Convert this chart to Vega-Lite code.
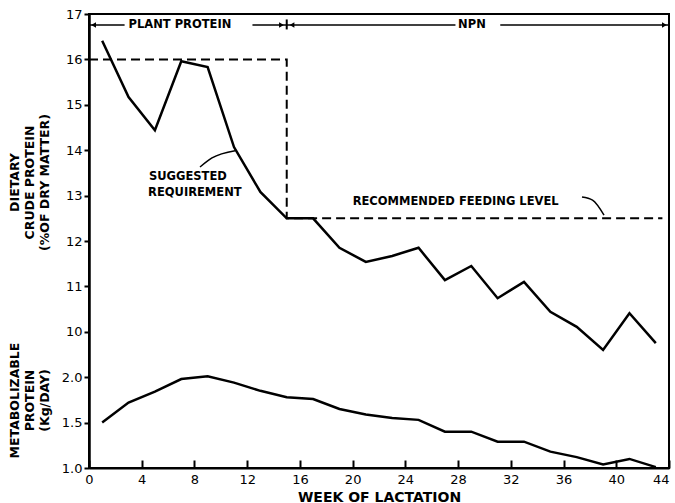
{
  "$schema": "https://vega.github.io/schema/vega-lite/v6.json",
  "width": 580,
  "height": 454,
  "autosize": {"type": "none"},
  "padding": {"left": 89, "top": 14, "right": 6, "bottom": 35},
  "background": "white",
  "config": {
    "view": {"stroke": "black", "strokeWidth": 2},
    "axis": {"domainColor": "black", "domainWidth": 2, "tickColor": "black", "tickWidth": 2, "labelColor": "black", "titleColor": "black", "labelFont": "DejaVu Sans", "titleFont": "DejaVu Sans", "grid": false},
    "text": {"font": "DejaVu Sans", "fontWeight": "bold", "fontSize": 11.5, "color": "black", "baseline": "middle", "align": "left"}
  },
  "datasets": {
    "cp": [
      {"week": 1, "v": 16.41}, {"week": 3, "v": 15.17}, {"week": 5, "v": 14.44}, {"week": 7, "v": 15.96},
      {"week": 9, "v": 15.83}, {"week": 11, "v": 14.07}, {"week": 13, "v": 13.08}, {"week": 15, "v": 12.5},
      {"week": 17, "v": 12.5}, {"week": 19, "v": 11.85}, {"week": 21, "v": 11.54}, {"week": 23, "v": 11.67},
      {"week": 25, "v": 11.85}, {"week": 27, "v": 11.14}, {"week": 29, "v": 11.45}, {"week": 31, "v": 10.74},
      {"week": 33, "v": 11.1}, {"week": 35, "v": 10.44}, {"week": 37, "v": 10.11}, {"week": 39, "v": 9.6},
      {"week": 41, "v": 10.41}, {"week": 43, "v": 9.75}
    ],
    "mp": [
      {"week": 1, "mp": 1.5}, {"week": 3, "mp": 1.72}, {"week": 5, "mp": 1.84}, {"week": 7, "mp": 1.98},
      {"week": 9, "mp": 2.01}, {"week": 11, "mp": 1.94}, {"week": 13, "mp": 1.85}, {"week": 15, "mp": 1.78},
      {"week": 17, "mp": 1.76}, {"week": 19, "mp": 1.65}, {"week": 21, "mp": 1.59}, {"week": 23, "mp": 1.55},
      {"week": 25, "mp": 1.53}, {"week": 27, "mp": 1.4}, {"week": 29, "mp": 1.4}, {"week": 31, "mp": 1.29},
      {"week": 33, "mp": 1.29}, {"week": 35, "mp": 1.18}, {"week": 37, "mp": 1.12}, {"week": 39, "mp": 1.04},
      {"week": 41, "mp": 1.1}, {"week": 43, "mp": 1.01}
    ],
    "req": [
      {"i": 1, "week": 0, "v": 16}, {"i": 2, "week": 15, "v": 16}, {"i": 3, "week": 15, "v": 12.5}, {"i": 4, "week": 43.5, "v": 12.5}
    ],
    "bracket": [
      {"seg": "a", "i": 1, "week": 0, "v": 16.76}, {"seg": "a", "i": 2, "week": 2.7, "v": 16.76},
      {"seg": "b", "i": 1, "week": 12.4, "v": 16.76}, {"seg": "b", "i": 2, "week": 15, "v": 16.76},
      {"seg": "c", "i": 1, "week": 15, "v": 16.76}, {"seg": "c", "i": 2, "week": 27.8, "v": 16.76},
      {"seg": "d", "i": 1, "week": 31.2, "v": 16.76}, {"seg": "d", "i": 2, "week": 44, "v": 16.76}
    ],
    "arrows": [
      {"week": 0.35, "v": 16.76, "shape": "triangle-left"},
      {"week": 14.6, "v": 16.76, "shape": "triangle-right"},
      {"week": 15.4, "v": 16.76, "shape": "triangle-left"},
      {"week": 43.65, "v": 16.76, "shape": "triangle-right"}
    ],
    "sep": [{"week": 15, "v": 16.66, "v2": 16.88}],
    "leaders": [
      {"seg": "s", "i": 1, "week": 8.42, "v": 13.63}, {"seg": "s", "i": 2, "week": 9.33, "v": 13.83}, {"seg": "s", "i": 3, "week": 11.08, "v": 13.99},
      {"seg": "r", "i": 1, "week": 37.4, "v": 12.97}, {"seg": "r", "i": 2, "week": 38.2, "v": 12.9}, {"seg": "r", "i": 3, "week": 39.07, "v": 12.57}
    ],
    "labels": [
      {"week": 3.0, "v": 16.76, "text": "PLANT PROTEIN"},
      {"week": 28.0, "v": 16.76, "text": "NPN"},
      {"week": 4.55, "v": 13.41, "text": "SUGGESTED"},
      {"week": 4.48, "v": 13.06, "text": "REQUIREMENT"},
      {"week": 20.0, "v": 12.86, "text": "RECOMMENDED FEEDING LEVEL"}
    ]
  },
  "layer": [
    {
      "layer": [
        {
          "data": {"name": "cp"},
          "mark": {"type": "line", "color": "black", "strokeWidth": 2.5},
          "encoding": {
            "x": {"field": "week", "type": "quantitative", "scale": {"domain": [0, 44], "nice": false},
              "axis": {"values": [0,2,4,6,8,10,12,14,16,18,20,22,24,26,28,30,32,34,36,38,40,42,44],
                "labelExpr": "datum.value % 4 === 0 ? datum.label : ''", "tickSize": -8, "labelPadding": 13,
                "labelFontSize": 13, "labelFlush": false,
                "labelAlign": {"expr": "datum.value === 44 ? 'right' : 'center'"},
                "title": "WEEK OF LACTATION", "titleFontSize": 14,
                "titleFontWeight": "bold", "titleBaseline": "alphabetic", "titleY": 33}},
            "y": {"field": "v", "type": "quantitative", "scale": {"domain": [7, 17], "nice": false, "zero": false},
              "axis": {"orient": "left", "values": [10,11,12,13,14,15,16,17], "tickSize": 5, "labelPadding": 2,
                "labelFontSize": 13, "title": ["DIETARY", "CRUDE PROTEIN", "(%OF DRY MATTER)"], "titleFontSize": 12.5,
                "titleFontWeight": "bold", "titleAngle": -90, "titleAlign": "center", "titleBaseline": "top",
                "titleX": -81, "titleY": 168, "titleLineHeight": 15}}
          }
        },
        {
          "data": {"name": "req"},
          "mark": {"type": "line", "color": "black", "strokeWidth": 2, "strokeDash": [9, 5]},
          "encoding": {
            "x": {"field": "week", "type": "quantitative", "scale": {"domain": [0, 44], "nice": false}},
            "y": {"field": "v", "type": "quantitative", "scale": {"domain": [7, 17], "nice": false, "zero": false}},
            "order": {"field": "i", "type": "quantitative"}
          }
        },
        {
          "data": {"name": "bracket"},
          "mark": {"type": "line", "color": "black", "strokeWidth": 1.5},
          "encoding": {
            "x": {"field": "week", "type": "quantitative", "scale": {"domain": [0, 44], "nice": false}},
            "y": {"field": "v", "type": "quantitative", "scale": {"domain": [7, 17], "nice": false, "zero": false}},
            "detail": {"field": "seg"},
            "order": {"field": "i", "type": "quantitative"}
          }
        },
        {
          "data": {"name": "arrows"},
          "mark": {"type": "point", "filled": true, "color": "black", "size": 30, "opacity": 1},
          "encoding": {
            "x": {"field": "week", "type": "quantitative", "scale": {"domain": [0, 44], "nice": false}},
            "y": {"field": "v", "type": "quantitative", "scale": {"domain": [7, 17], "nice": false, "zero": false}},
            "shape": {"field": "shape", "type": "nominal", "scale": null, "legend": null}
          }
        },
        {
          "data": {"name": "sep"},
          "mark": {"type": "rule", "color": "black", "strokeWidth": 2},
          "encoding": {
            "x": {"field": "week", "type": "quantitative", "scale": {"domain": [0, 44], "nice": false}},
            "y": {"field": "v", "type": "quantitative", "scale": {"domain": [7, 17], "nice": false, "zero": false}},
            "y2": {"field": "v2"}
          }
        },
        {
          "data": {"name": "leaders"},
          "mark": {"type": "line", "color": "black", "strokeWidth": 1.5, "interpolate": "monotone"},
          "encoding": {
            "x": {"field": "week", "type": "quantitative", "scale": {"domain": [0, 44], "nice": false}},
            "y": {"field": "v", "type": "quantitative", "scale": {"domain": [7, 17], "nice": false, "zero": false}},
            "detail": {"field": "seg"},
            "order": {"field": "i", "type": "quantitative"}
          }
        },
        {
          "data": {"name": "labels"},
          "mark": {"type": "text"},
          "encoding": {
            "x": {"field": "week", "type": "quantitative", "scale": {"domain": [0, 44], "nice": false}},
            "y": {"field": "v", "type": "quantitative", "scale": {"domain": [7, 17], "nice": false, "zero": false}},
            "text": {"field": "text"}
          }
        }
      ]
    },
    {
      "data": {"name": "mp"},
      "mark": {"type": "line", "color": "black", "strokeWidth": 2.5},
      "encoding": {
        "x": {"field": "week", "type": "quantitative", "scale": {"domain": [0, 44], "nice": false}},
        "y": {"field": "mp", "type": "quantitative", "scale": {"domain": [1, 6], "nice": false, "zero": false},
          "axis": {"orient": "left", "values": [1, 1.5, 2], "format": ".1f", "tickSize": 5, "labelPadding": 2,
            "labelFontSize": 13, "title": ["METABOLIZABLE", "PROTEIN", "(Kg/DAY)"], "titleFontSize": 12.5,
            "titleFontWeight": "bold", "titleAngle": -90, "titleAlign": "center", "titleBaseline": "top",
            "titleX": -81, "titleY": 386, "titleLineHeight": 15}}
      }
    }
  ],
  "resolve": {"scale": {"y": "independent"}}
}
